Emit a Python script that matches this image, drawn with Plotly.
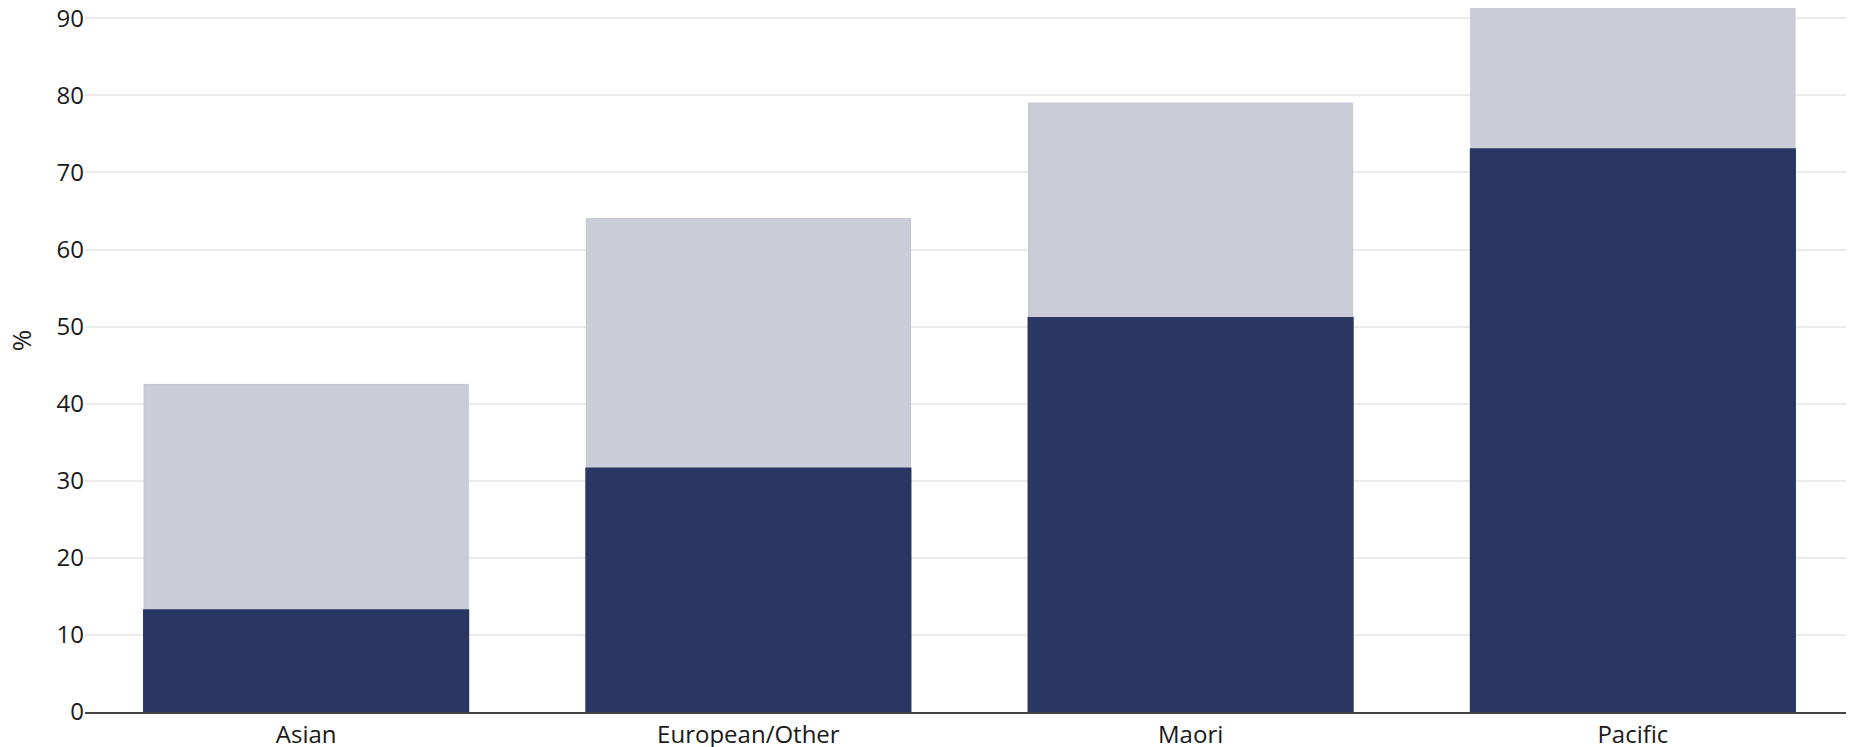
import plotly.graph_objects as go

categories = ["Asian", "European/Other", "Maori", "Pacific"]
total_values = [42.5, 64.0, 79.0, 91.5]
dark_values = [13.2, 31.6, 51.1, 73.0]
y_ticks = [0, 10, 20, 30, 40, 50, 60, 70, 80, 90]

fig = go.Figure()
fig.add_trace(go.Bar(
    x=categories, y=total_values, width=0.733,
    marker=dict(color="#CACCD8", line=dict(color="#C3C6D3", width=1)),
    showlegend=False, hoverinfo="x+y"))
fig.add_trace(go.Bar(
    x=categories, y=dark_values, width=0.733,
    marker=dict(color="#2A3764", line=dict(color="#2A3764", width=2)),
    showlegend=False, hoverinfo="x+y"))

fig.update_layout(
    barmode="overlay",
    width=1846, height=739,
    margin=dict(l=77, r=0, t=0, b=35),
    paper_bgcolor="white", plot_bgcolor="white",
    font=dict(family="'Open Sans', sans-serif", size=24, color="#1a1a1a"),
    xaxis=dict(range=[-0.5, 3.5], showgrid=False, showline=True,
               linecolor="#444444", linewidth=2, ticks="", zeroline=False,
               layer="below traces", automargin=False,
               ticklabeloverflow="allow", tickfont=dict(size=24)),
    yaxis=dict(range=[0, 91.33], tickvals=y_ticks, showgrid=True,
               gridcolor="#EBEBEB", gridwidth=2, zeroline=False, showline=False,
               ticks="", tickfont=dict(size=24), automargin=False,
               ticklabeloverflow="allow", layer="below traces"),
    annotations=[dict(text="%", xref="paper", yref="paper", x=-0.0362, y=0.528,
                      xanchor="center", yanchor="middle", textangle=-90,
                      showarrow=False, font=dict(size=26, color="#1a1a1a"))],
)
fig.write_html("out.html")
